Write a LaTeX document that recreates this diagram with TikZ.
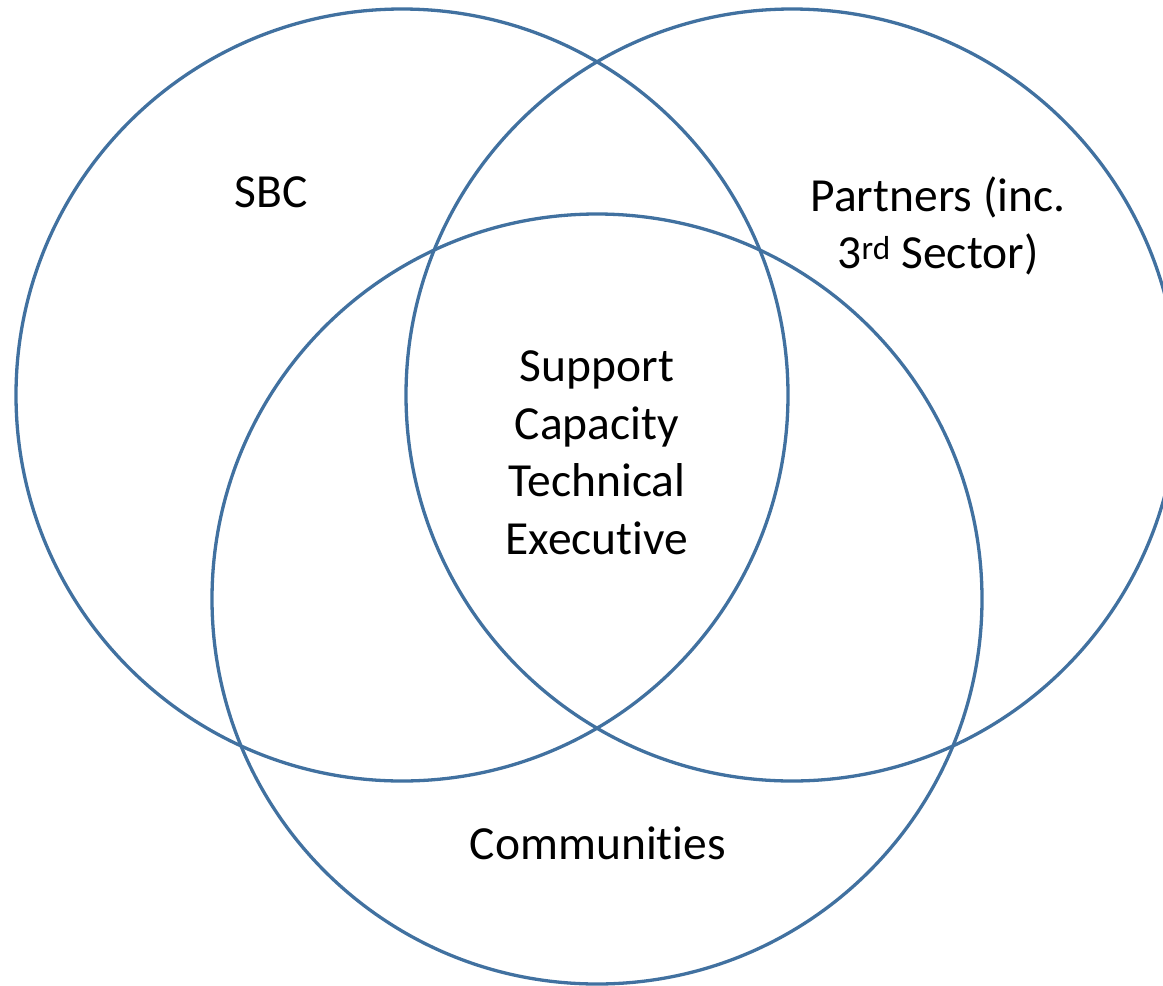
\documentclass[tikz,border=0pt]{standalone}
\usepackage{fontspec}
\setmainfont{Carlito}[Ligatures=NoCommon]
\usepackage{xcolor}
\usepackage{tikz}

\definecolor{ringblue}{RGB}{65,113,160}

\begin{document}
\begin{tikzpicture}[x=1pt, y=-1pt,
  ring/.style={draw=ringblue, line width=3.3pt},
  lbl/.style={align=center, font=\fontsize{47.5}{57.5}\selectfont}]

\useasboundingbox (0,0) rectangle (1163,986);

\coordinate (sbc) at (402,395);
\coordinate (partners) at (792,395);
\coordinate (comm) at (597,599);

\draw[ring] (sbc) circle[radius=386pt];
\draw[ring] (partners) circle[radius=386pt];
\draw[ring] (comm) circle[radius=385pt];

\node[lbl] (sbclbl) at (271,192) {SBC};
\node[lbl] (partnerslbl) at (938,226) {Partners (inc.\\3\textsuperscript{rd} Sector)};
\node[lbl] (corelbl) at (597,453) {Support\\Capacity\\Technical\\Executive};
\node[lbl] (commlbl) at (598,843) {Communities};

\end{tikzpicture}
\end{document}
